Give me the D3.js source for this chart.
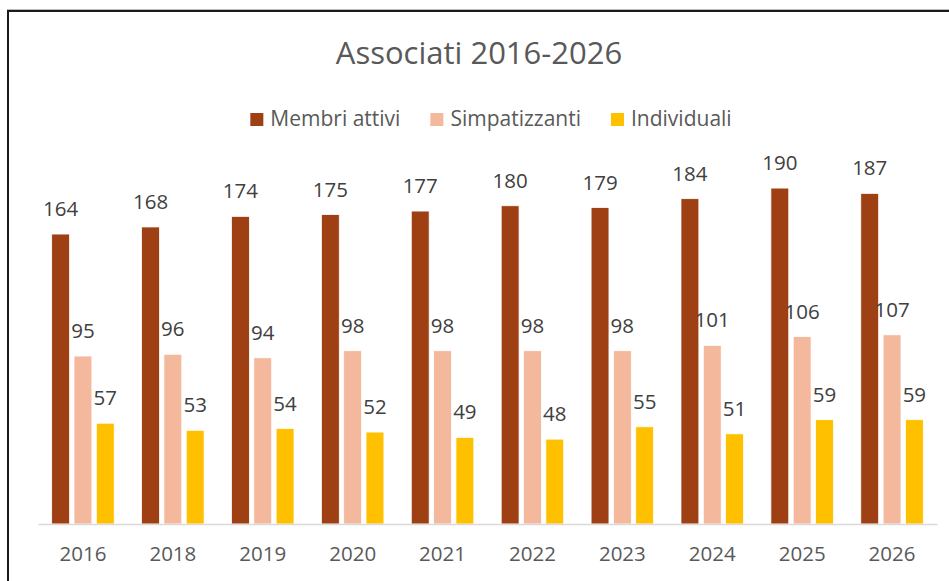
<!DOCTYPE html>
<html>
<head>
<meta charset="utf-8">
<script src="https://cdn.jsdelivr.net/npm/d3@7"></script>
<style>
  html, body { margin: 0; padding: 0; background: #fff; }
  svg { display: block; font-family: "Open Sans", sans-serif; }
</style>
</head>
<body>
<div id="main"></div>
<script>
// --- chart data
const years = ['2016', '2018', '2019', '2020', '2021', '2022', '2023', '2024', '2025', '2026'];
const seriesNames = ['Membri attivi', 'Simpatizzanti', 'Individuali'];
const membri = [164, 168, 174, 175, 177, 180, 179, 184, 190, 187];
const simpatizzanti = [95, 96, 94, 98, 98, 98, 98, 101, 106, 107];
const individuali = [57, 53, 54, 52, 49, 48, 55, 51, 59, 59];
const colors = ['#9E4013', '#F4B99C', '#FFC000'];

const width = 949, height = 581;
const margin = { left: 38, right: 12, top: 170, bottom: 57 };

const dataset = years.map((y, i) => ({
  year: y,
  values: [membri[i], simpatizzanti[i], individuali[i]]
}));

const svg = d3.select('#main')
  .append('svg')
  .attr('width', width)
  .attr('height', height);

// outer frame (cut at right/bottom like the screenshot)
svg.append('line')
  .attr('x1', 7).attr('x2', width).attr('y1', 9.5).attr('y2', 9.5)
  .attr('stroke', '#bbb').attr('stroke-width', 1);
svg.append('path')
  .attr('d', `M8,${height} V11 H${width}`)
  .attr('fill', 'none')
  .attr('stroke', '#1a1a1a')
  .attr('stroke-width', 2);

// scales
const xScale = d3.scaleBand()
  .domain(years)
  .range([margin.left, width - margin.right])
  .paddingInner(0.255)
  .paddingOuter(0.1275);

const xInner = d3.scaleBand()
  .domain(d3.range(seriesNames.length))
  .range([0, xScale.bandwidth()])
  .paddingInner(0.2)
  .paddingOuter(0.1);

const yScale = d3.scaleLinear()
  .domain([0, 200])
  .range([height - margin.bottom, margin.top + 0.4]);

// title
svg.append('text')
  .attr('x', 479)
  .attr('y', 64)
  .attr('text-anchor', 'middle')
  .attr('fill', '#595959')
  .attr('font-size', 31)
  .text('Associati 2016-2026');

// legend
const legend = svg.append('g');
let lx = 0;
seriesNames.forEach((name, i) => {
  const g = legend.append('g').attr('transform', `translate(${lx},0)`);
  g.append('rect')
    .attr('x', 0).attr('y', -13)
    .attr('width', 13).attr('height', 13)
    .attr('fill', colors[i]);
  const t = g.append('text')
    .attr('x', 20).attr('y', 0)
    .attr('fill', '#595959')
    .attr('font-size', 21)
    .text(name);
  lx += 20 + t.node().getComputedTextLength() + 30;
});
const legendW = lx - 30;
legend.attr('transform', `translate(${491 - legendW / 2},126)`);

// bars
const groups = svg.selectAll('g.year')
  .data(dataset)
  .enter()
  .append('g')
  .attr('class', 'year')
  .attr('transform', d => `translate(${xScale(d.year)},0)`);

groups.selectAll('rect')
  .data(d => d.values.map((v, i) => ({ v, i })))
  .enter()
  .append('rect')
  .attr('x', d => xInner(d.i))
  .attr('y', d => yScale(d.v))
  .attr('width', xInner.bandwidth())
  .attr('height', d => yScale(0) - yScale(d.v))
  .attr('fill', d => colors[d.i])
  .attr('stroke', '#fff')
  .attr('stroke-width', 0.75);

groups.selectAll('text.lbl')
  .data(d => d.values.map((v, i) => ({ v, i })))
  .enter()
  .append('text')
  .attr('class', 'lbl')
  .attr('x', d => xInner(d.i) + xInner.bandwidth() / 2)
  .attr('y', d => yScale(d.v) - 18)
  .attr('text-anchor', 'middle')
  .attr('fill', '#404040')
  .attr('font-size', 20.5)
  .text(d => d.v);

// x axis
const xAxis = svg.append('g')
  .attr('transform', `translate(0,${yScale(0)})`)
  .call(d3.axisBottom(xScale).tickSize(0).tickPadding(22).tickSizeOuter(0));
xAxis.select('.domain').attr('stroke', '#d9d9d9').attr('stroke-width', 1.5);
xAxis.selectAll('text')
  .attr('font-family', '"Open Sans", sans-serif')
  .attr('font-size', 20.5)
  .attr('fill', '#595959');
</script>
</body>
</html>
